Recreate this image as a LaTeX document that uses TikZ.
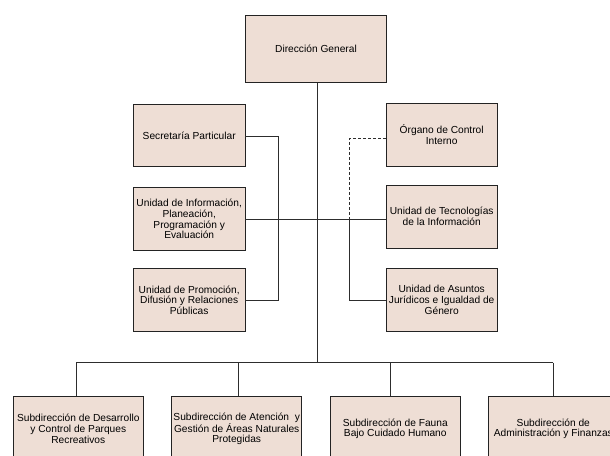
\documentclass[tikz,border=0pt]{standalone}
\usepackage{fontspec}
\setmainfont{Liberation Sans}
\definecolor{boxfill}{RGB}{238,222,213}
\definecolor{boxline}{RGB}{35,35,35}
\definecolor{conline}{RGB}{45,45,45}
\begin{document}
\begin{tikzpicture}[x=1pt,y=-1pt,
  unit/.style={draw=boxline, line width=0.9pt, fill=boxfill, align=center, inner sep=0pt,
    font=\fontsize{10.2}{10.7}\selectfont},
  smallbox/.style={unit, minimum width=111.5pt, minimum height=63pt},
  subbox/.style={unit, minimum width=130pt, minimum height=64pt},
  conn/.style={draw=conline, line width=0.8pt},
  dashconn/.style={conn, dash pattern=on 3pt off 2pt}]
\useasboundingbox (0,0) rectangle (610,455);
\clip (0,0) rectangle (610,455);

% top
\node[unit, minimum width=141.5pt, minimum height=67.5pt] (dg) at (316,48.8) {Dirección General};

% left column
\node[smallbox, minimum height=62.4pt] (sec) at (189.2,135.5) {Secretaría Particular};
\node[smallbox] (info) at (189.2,219) {Unidad de Información,\\Planeación,\\Programación y\\Evaluación};
\node[smallbox] (prom) at (189.2,300) {Unidad de Promoción,\\Difusión y Relaciones\\Públicas};

% right column
\node[smallbox, minimum height=62.7pt] (org) at (441.7,134.7) {Órgano de Control\\Interno};
\node[smallbox] (tec) at (441.7,216.5) {Unidad de Tecnologías\\de la Información};
\node[smallbox] (asu) at (441.7,300) {Unidad de Asuntos\\Jurídicos e Igualdad de\\Género};

% bottom row
\node[subbox] (b1) at (78.3,428.7) {Subdirección de Desarrollo\\y Control de Parques\\Recreativos};
\node[subbox] (b2) at (236.7,428.7) {Subdirección de Atención~ y\\Gestión de Áreas Naturales\\Protegidas};
\node[subbox] (b3) at (395.3,428.7) {Subdirección de Fauna\\Bajo Cuidado Humano};
\node[subbox] (b4) at (553.3,428.7) {Subdirección de\\Administración y Finanzas};

% junction coordinates
\coordinate (main) at (317.7,362.5);
\coordinate (lx) at (278,136.7);
\coordinate (rx) at (349,219.3);
\coordinate (d1) at (76.3,362.5);
\coordinate (d2) at (238.7,362.5);
\coordinate (d3) at (390.7,362.5);
\coordinate (d4) at (553.3,362.5);

% main trunk
\draw[conn] (dg.south -| main) -- (main);
% left staff
\draw[conn] (sec.east |- lx) -- (lx) |- (prom.east);
% middle horizontal
\draw[conn] (info.east |- rx) -- (tec.west |- rx);
% control (dashed) and legal
\draw[dashconn] (org.west |- 0,138.3) -| (rx);
\draw[conn] (rx) |- (asu.west);
% bus
\draw[conn] (d1) -- (d4);
\draw[conn] (d1) -- (d1 |- b1.north);
\draw[conn] (d2) -- (d2 |- b2.north);
\draw[conn] (d3) -- (d3 |- b3.north);
\draw[conn] (d4) -- (d4 |- b4.north);
\end{tikzpicture}
\end{document}
